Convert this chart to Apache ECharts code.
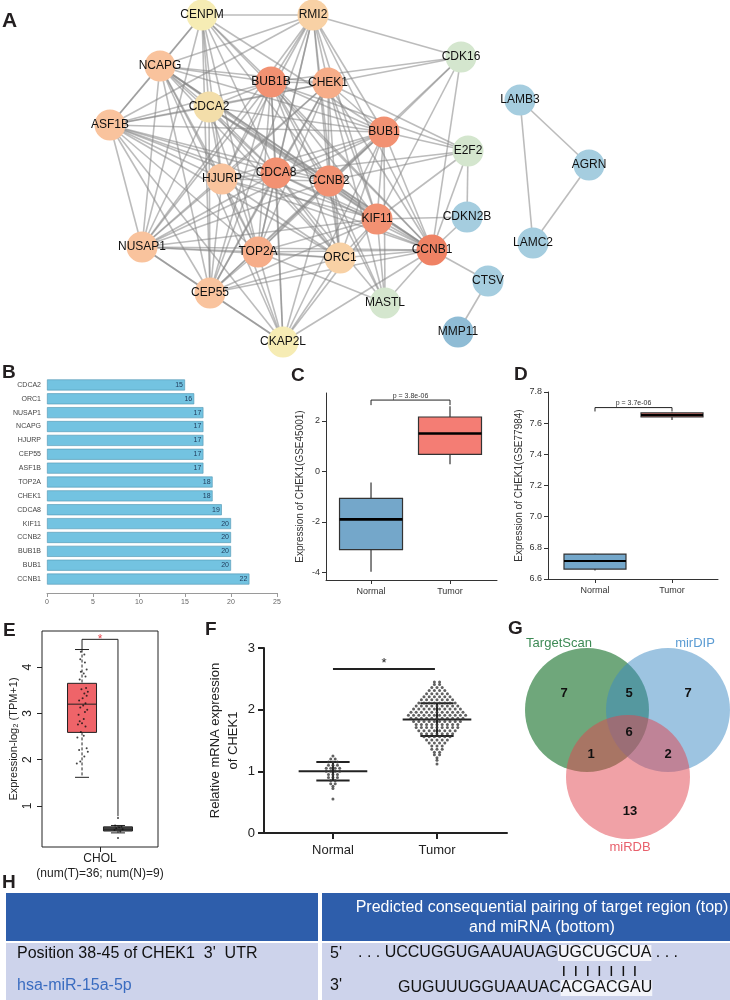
<!DOCTYPE html>
<html>
<head>
<meta charset="utf-8">
<script src="https://cdn.jsdelivr.net/npm/echarts@6/dist/echarts.min.js"></script>
<style>
  html, body { margin: 0; padding: 0; background: #fff; }
  #chart { width: 730px; height: 1000px; }
</style>
</head>
<body>
<div id="chart"></div>
<script>
// ---------- A: PPI network ----------
const geneNames = ['CENPM', 'RMI2', 'NCAPG', 'BUB1B', 'CHEK1', 'CDCA2', 'ASF1B', 'BUB1', 'CDK16', 'HJURP', 'CDCA8', 'CCNB2', 'E2F2', 'LAMB3', 'AGRN', 'KIF11', 'CDKN2B', 'NUSAP1', 'TOP2A', 'ORC1', 'CCNB1', 'LAMC2', 'CEP55', 'MASTL', 'CTSV', 'CKAP2L', 'MMP11'];
// layout of the network (as exported from the drawing tool)
const geneLayoutX = [202, 313, 160, 271, 328, 209, 110, 384, 461, 222, 276, 329, 468, 520, 589, 377, 467, 142, 258, 340, 432, 533, 210, 385, 488, 283, 458];
const geneLayoutY = [15, 15, 66, 82, 83, 107, 125, 132, 57, 179, 173, 181, 151, 100, 165, 219, 217, 247, 252, 258, 250, 243, 293, 303, 281, 342, 332];
const geneLinks = [
  'CCNB1: BUB1 BUB1B CCNB2 KIF11 CDCA8 CHEK1 TOP2A NUSAP1 NCAPG HJURP CEP55 ASF1B ORC1 CDCA2 CENPM RMI2 CKAP2L MASTL CDK16 E2F2 CDKN2B CTSV',
  'BUB1: BUB1B CCNB2 KIF11 CDCA8 CHEK1 TOP2A NUSAP1 NCAPG HJURP CEP55 ASF1B ORC1 CDCA2 CENPM RMI2 CKAP2L MASTL CDK16 E2F2',
  'BUB1B: CCNB2 KIF11 CDCA8 CHEK1 TOP2A NUSAP1 NCAPG HJURP CEP55 ASF1B ORC1 CDCA2 CENPM RMI2 CKAP2L MASTL CDK16 E2F2',
  'CCNB2: KIF11 CDCA8 CHEK1 TOP2A NUSAP1 NCAPG HJURP CEP55 ASF1B ORC1 CDCA2 CENPM RMI2 CKAP2L MASTL CDK16 E2F2',
  'KIF11: CDCA8 CHEK1 TOP2A NUSAP1 NCAPG HJURP CEP55 ASF1B ORC1 CDCA2 RMI2 CKAP2L MASTL CDK16 E2F2 CDKN2B',
  'CDCA8: CHEK1 TOP2A NUSAP1 NCAPG HJURP CEP55 ASF1B ORC1 CDCA2 CENPM RMI2 CKAP2L MASTL E2F2',
  'CHEK1: TOP2A NUSAP1 NCAPG HJURP CEP55 ASF1B ORC1 CDCA2 RMI2 CDK16 E2F2 MASTL',
  'TOP2A: NUSAP1 NCAPG HJURP CEP55 ASF1B ORC1 CDCA2 CENPM RMI2 CKAP2L MASTL',
  'NUSAP1: NCAPG HJURP CEP55 ASF1B ORC1 CDCA2 CENPM RMI2 CKAP2L',
  'NCAPG: HJURP CEP55 ASF1B ORC1 CDCA2 CENPM RMI2 CKAP2L',
  'HJURP: CEP55 ASF1B ORC1 CDCA2 CENPM RMI2 CKAP2L',
  'CEP55: ASF1B ORC1 CDCA2 CENPM RMI2 CKAP2L',
  'ASF1B: ORC1 CDCA2 CENPM RMI2 CKAP2L',
  'ORC1: CDCA2 RMI2 CKAP2L',
  'CDCA2: CENPM',
  'CENPM: RMI2',
  'RMI2: CDK16',
  'E2F2: CDKN2B',
  'CTSV: MMP11',
  'LAMB3: AGRN LAMC2',
  'AGRN: LAMC2'
];

// ---------- B: degree ranking ----------
const hubGenes = ['CDCA2', 'ORC1', 'NUSAP1', 'NCAPG', 'HJURP', 'CEP55', 'ASF1B', 'TOP2A', 'CHEK1', 'CDCA8', 'KIF11', 'CCNB2', 'BUB1B', 'BUB1', 'CCNB1'];
const hubDegree = [15, 16, 17, 17, 17, 17, 17, 18, 18, 19, 20, 20, 20, 20, 22];

// ---------- C / D: GEO box plots ----------
const groupsCD = ['Normal', 'Tumor'];
// [min, Q1, median, Q3, max]
const boxC = [[-3.97, -3.1, -1.9, -1.07, -0.44], [0.28, 0.67, 1.5, 2.15, 2.58]];
const boxD = [[6.655, 6.664, 6.715, 6.76, 6.762], [7.62, 7.64, 7.652, 7.666, 7.668]];
const ticksC = [-4, -2, 0, 2];
const pLabelC = 'p = 3.8e-06';
const pLabelD = 'p = 3.7e-06';

// ---------- E: GEPIA ----------
const eCategory = ['CHOL'];
const eCountLabel = '(num(T)=36; num(N)=9)';
const eTumorBox = [1.62, 2.59, 3.2, 3.65, 4.38];
const eNormalBox = [0.42, 0.46, 0.5, 0.55, 0.58];
const eTumorPts = [4.33, 4.27, 4.17, 4.10, 3.95, 3.90, 3.86, 3.80, 3.73, 3.55, 3.52, 3.47, 3.43, 3.38, 3.33, 3.28, 3.22, 3.17, 3.13, 3.08, 3.03, 2.97, 2.88, 2.83, 2.79, 2.76, 2.72, 2.60, 2.52, 2.48, 2.25, 2.21, 2.17, 2.07, 1.96, 1.92];
const eTumorJitter = [-0.02, 0.04, -0.03, 0.05, 0.08, -0.02, 0.03, 0.06, -0.04, 0.07, -0.01, 0.10, 0.04, 0.08, 0.01, -0.05, 0.06, 0.02, -0.03, 0.09, 0.05, -0.06, 0.03, -0.04, 0.0, -0.07, 0.06, -0.02, 0.03, -0.08, 0.08, -0.05, 0.10, 0.04, -0.03, -0.09];
const eNormalPts = [0.74, 0.58, 0.56, 0.54, 0.52, 0.50, 0.48, 0.45, 0.31];
const eNormalJitter = [0.0, -0.05, 0.06, 0.02, -0.03, 0.08, -0.06, 0.04, 0.0];
const eTicks = [1, 2, 3, 4];

// ---------- F: qRT-PCR ----------
const fGroups = ['Normal', 'Tumor'];
const fMean = [1.0, 1.84];
const fSD = [0.15, 0.265];
const fNormalLevels = [0.55, 0.72, 0.76, 0.8, 0.85, 0.9, 0.95, 1.0, 1.05, 1.1, 1.15, 1.2, 1.25];
const fNormalCounts = [1, 1, 1, 2, 2, 3, 3, 4, 4, 3, 3, 2, 1];
const fTumorLevels = [1.12, 1.18, 1.22, 1.27, 1.31, 1.36, 1.41, 1.46, 1.51, 1.56, 1.61, 1.66, 1.71, 1.76, 1.81, 1.86, 1.91, 1.96, 2.01, 2.06, 2.11, 2.16, 2.21, 2.26, 2.31, 2.36, 2.41, 2.45];
const fTumorCounts = [1, 1, 1, 2, 2, 3, 3, 4, 5, 6, 7, 8, 9, 9, 10, 11, 12, 11, 10, 9, 8, 7, 6, 5, 4, 3, 2, 2];

// ---------- G: Venn ----------
const vennSets = ['TargetScan', 'mirDIP', 'miRDB'];
const vennCounts = [7, 7, 13, 5, 1, 2, 6]; // TS only, mirDIP only, miRDB only, TS&mirDIP, TS&miRDB, mirDIP&miRDB, all

const fontFam = '"Liberation Sans", Arial, sans-serif';

// network nodes / links
const links = [];
geneLinks.forEach(function (row) {
  const parts = row.split(':');
  parts[1].trim().split(/\s+/).forEach(function (t) {
    links.push({ source: parts[0].trim(), target: t });
  });
});
const degree = {};
links.forEach(function (l) {
  degree[l.source] = (degree[l.source] || 0) + 1;
  degree[l.target] = (degree[l.target] || 0) + 1;
});
function degreeColor(d) {
  if (d >= 22) return '#EF8264';
  if (d >= 19) return '#F29172';
  if (d >= 18) return '#F6AD89';
  if (d >= 17) return '#F9C39D';
  if (d >= 16) return '#F8D1A5';
  if (d >= 14) return '#F3DEAA';
  if (d >= 10) return '#F6ECB4';
  if (d >= 5) return '#D4E6CE';
  if (d >= 2) return '#A5CDDF';
  return '#8FBCD5';
}
const graphNodes = geneNames.map(function (g, i) {
  return { name: g, value: [geneLayoutX[i], geneLayoutY[i]], itemStyle: { color: degreeColor(degree[g]) } };
});

// box plot renderer
function boxRenderer(cfg) {
  return function (params, api) {
    const x = api.value(0);
    const p = [1, 2, 3, 4, 5].map(function (d) { return api.coord([x, api.value(d)]); });
    const cx = p[0][0], w = cfg.width, hw = w / 2;
    const dash = cfg.dash ? cfg.dash[params.dataIndex] : null;
    const st = { stroke: cfg.stroke, lineWidth: cfg.lineWidth, lineDash: dash };
    const kids = [
      { type: 'line', shape: { x1: cx, y1: p[4][1], x2: cx, y2: p[3][1] }, style: st },
      { type: 'line', shape: { x1: cx, y1: p[1][1], x2: cx, y2: p[0][1] }, style: st },
      { type: 'rect', shape: { x: cx - hw, y: p[3][1], width: w, height: Math.max(p[1][1] - p[3][1], 1) },
        style: { fill: cfg.fill[params.dataIndex], stroke: cfg.stroke, lineWidth: cfg.lineWidth } },
      { type: 'line', shape: { x1: cx - hw, y1: p[2][1], x2: cx + hw, y2: p[2][1] }, style: { stroke: cfg.median, lineWidth: cfg.medianWidth } }
    ];
    if (cfg.cap) {
      const c = cfg.cap[params.dataIndex] / 2;
      kids.push({ type: 'line', shape: { x1: cx - c, y1: p[0][1], x2: cx + c, y2: p[0][1] }, style: { stroke: cfg.stroke, lineWidth: cfg.lineWidth } });
      kids.push({ type: 'line', shape: { x1: cx - c, y1: p[4][1], x2: cx + c, y2: p[4][1] }, style: { stroke: cfg.stroke, lineWidth: cfg.lineWidth } });
    }
    return { type: 'group', children: kids };
  };
}

// bracket renderer: [x1, x2, yTop, yLeftEnd, yRightEnd]
function bracketRenderer(cfg) {
  return function (params, api) {
    const a = api.coord([api.value(0), api.value(2)]);
    const b = api.coord([api.value(1), api.value(2)]);
    const al = api.coord([api.value(0), api.value(3)]);
    const br = api.coord([api.value(1), api.value(4)]);
    return {
      type: 'group',
      children: [
        { type: 'polyline', shape: { points: [[a[0], al[1]], a, b, [b[0], br[1]]] },
          style: { stroke: cfg.stroke, lineWidth: cfg.lineWidth, fill: null } },
        { type: 'text', x: (a[0] + b[0]) / 2, y: a[1] + cfg.dy,
          style: { text: cfg.text, align: 'center', verticalAlign: 'bottom', fontSize: cfg.fontSize, fill: cfg.color, fontFamily: fontFam } }
      ]
    };
  };
}

function swarm(levels, counts, center, step) {
  const pts = [];
  levels.forEach(function (v, i) {
    const n = counts[i];
    for (let k = 0; k < n; k++) pts.push([center + (k - (n - 1) / 2) * step, v]);
  });
  return pts;
}

const eBoxX = [-0.31, 0.31];
const ePts = eTumorPts.map(function (v, i) { return [eBoxX[0] + eTumorJitter[i], v]; })
  .concat(eNormalPts.map(function (v, i) { return [eBoxX[1] + eNormalJitter[i], v]; }));
const fPts = swarm(fNormalLevels, fNormalCounts, 0, 0.043).concat(swarm(fTumorLevels, fTumorCounts, 1, 0.05));

// venn geometry
const vennCircles = [[587, 710, 62], [668, 710, 62], [628, 777, 62]];
const vennFill = ['rgba(63,138,79,0.75)', 'rgba(59,137,195,0.5)', 'rgba(225,67,77,0.5)'];
const vennCountPos = [[564, 693], [688, 693], [630, 811], [629, 693], [591, 754], [668, 754], [629, 732]];
const vennLabelPos = [[559, 643], [695, 643], [630, 847]];
const vennLabelColor = ['#3D8A55', '#5A9BD3', '#E8606C'];

// table pairing marks positions from text metrics
const measureCtx = document.createElement('canvas').getContext('2d');
measureCtx.font = '16px "Liberation Sans"';
const seqTopPrefix = '. . . UCCUGGUGAAUAUAG';
const seqTopSeed = 'UGCUGCUA';
const seqBotPrefix = 'GUGUUUGGUAAUAC';
const seqBotSeed = 'ACGACGAU';
const seqTopX = 358, seqBotX = 398;
const seedStart = seqTopX + measureCtx.measureText(seqTopPrefix).width;
const pairMarks = [];
for (let k = 0; k < 7; k++) {
  const xc = seedStart + measureCtx.measureText(seqTopSeed.slice(0, k)).width + measureCtx.measureText(seqTopSeed[k]).width / 2;
  pairMarks.push({ type: 'line', shape: { x1: xc, y1: 966, x2: xc, y2: 976 }, style: { stroke: '#111', lineWidth: 1.5 } });
}

function letter(t, x, y, size) {
  return { type: 'text', x: x, y: y, style: { text: t, fontSize: size || 19, fontWeight: 'bold', fill: '#231F20', fontFamily: fontFam, verticalAlign: 'middle' } };
}

const noZero = { onZero: false };
const chart = echarts.init(document.getElementById('chart'));

const option = {
  animation: false,
  textStyle: { fontFamily: fontFam },
  grid: [
    { left: 0, top: 0, width: 730, height: 365, outerBoundsMode: 'none' },
    { left: 47, top: 378, width: 230, height: 208, outerBoundsMode: 'none' },
    { left: 326, top: 393, width: 171, height: 187, outerBoundsMode: 'none' },
    { left: 548, top: 392, width: 170, height: 187, outerBoundsMode: 'none' },
    { left: 42, top: 631, width: 116, height: 216, show: true, borderColor: '#222', borderWidth: 1, backgroundColor: 'transparent', outerBoundsMode: 'none' },
    { left: 264, top: 648, width: 243, height: 185, outerBoundsMode: 'none' },
    { left: 500, top: 600, width: 230, height: 270, outerBoundsMode: 'none' }
  ],
  xAxis: [
    { gridIndex: 0, type: 'value', min: 0, max: 730, show: false },
    { gridIndex: 1, type: 'value', min: 0, max: 25, interval: 5, offset: 7,
      axisLine: { show: true, onZero: false, lineStyle: { color: '#9a9a9a', width: 1 } },
      axisTick: { show: true, length: 4, lineStyle: { color: '#9a9a9a' } },
      axisLabel: { fontSize: 7, color: '#666', margin: 6 }, splitLine: { show: false } },
    { gridIndex: 2, type: 'value', min: -0.57, max: 1.595,
      axisLine: { show: true, onZero: false, lineStyle: { color: '#333', width: 1 } },
      axisTick: { show: true, customValues: [0, 1], length: 4, lineStyle: { color: '#333' } },
      axisLabel: { customValues: [0, 1], formatter: function (v) { return groupsCD[Math.round(v)]; }, fontSize: 9, color: '#333', margin: 7 },
      splitLine: { show: false } },
    { gridIndex: 3, type: 'value', min: -0.61, max: 1.597,
      axisLine: { show: true, onZero: false, lineStyle: { color: '#333', width: 1 } },
      axisTick: { show: true, customValues: [0, 1], length: 4, lineStyle: { color: '#333' } },
      axisLabel: { customValues: [0, 1], formatter: function (v) { return groupsCD[Math.round(v)]; }, fontSize: 9, color: '#333', margin: 7 },
      splitLine: { show: false } },
    { gridIndex: 4, type: 'category', data: eCategory, boundaryGap: true,
      axisLine: { show: false, onZero: false },
      axisTick: { show: true, alignWithLabel: true, length: 5, lineStyle: { color: '#222' } },
      axisLabel: { formatter: function (v) { return v + '\n' + eCountLabel; }, fontSize: 12, lineHeight: 15, color: '#222', margin: 4 },
      splitLine: { show: false } },
    { gridIndex: 4, type: 'value', min: -1, max: 1, show: false, axisLine: noZero },
    { gridIndex: 5, type: 'value', min: -0.663, max: 1.673,
      axisLine: { show: true, onZero: false, lineStyle: { color: '#222', width: 2 } },
      axisTick: { show: true, customValues: [0, 1], length: 6, lineStyle: { color: '#222', width: 2 } },
      axisLabel: { customValues: [0, 1], formatter: function (v) { return fGroups[Math.round(v)]; }, fontSize: 13, color: '#222', margin: 11 },
      splitLine: { show: false } },
    { gridIndex: 6, type: 'value', min: 500, max: 730, show: false, axisLine: noZero }
  ],
  yAxis: [
    { gridIndex: 0, type: 'value', min: 0, max: 365, inverse: true, show: false, axisLine: noZero },
    { gridIndex: 1, type: 'category', data: hubGenes, inverse: true,
      axisLine: { show: false, onZero: false }, axisTick: { show: false },
      axisLabel: { fontSize: 7, color: '#444', margin: 6 } },
    { gridIndex: 2, type: 'value', min: -4.3, max: 3.1,
      axisLine: { show: true, onZero: false, lineStyle: { color: '#333', width: 1 } },
      axisTick: { show: true, customValues: ticksC, length: 4, lineStyle: { color: '#333' } },
      axisLabel: { customValues: ticksC, fontSize: 9, color: '#333', margin: 6 },
      splitLine: { show: false },
      name: 'Expression of CHEK1(GSE45001)', nameLocation: 'middle', nameGap: 21,
      nameTextStyle: { fontSize: 10, color: '#333' } },
    { gridIndex: 3, type: 'value', min: 6.6, max: 7.8, interval: 0.2,
      axisLine: { show: true, onZero: false, lineStyle: { color: '#333', width: 1 } },
      axisTick: { show: true, length: 4, lineStyle: { color: '#333' } },
      axisLabel: { formatter: function (v) { return v.toFixed(1); }, fontSize: 9, color: '#333', margin: 6 },
      splitLine: { show: false },
      name: 'Expression of CHEK1(GSE77984)', nameLocation: 'middle', nameGap: 24,
      nameTextStyle: { fontSize: 10, color: '#333' } },
    { gridIndex: 4, type: 'value', min: 0.115, max: 4.78,
      axisLine: { show: false, onZero: false },
      axisTick: { show: true, customValues: eTicks, length: 5, lineStyle: { color: '#222' } },
      axisLabel: { customValues: eTicks, rotate: 90, fontSize: 12, color: '#222', margin: 8 },
      splitLine: { show: false },
      name: 'Expression-log\u2082 (TPM+1)', nameLocation: 'middle', nameGap: 23,
      nameTextStyle: { fontSize: 11, color: '#222' } },
    { gridIndex: 5, type: 'value', min: 0, max: 3, interval: 1,
      axisLine: { show: true, onZero: false, lineStyle: { color: '#222', width: 2 } },
      axisTick: { show: true, length: 6, lineStyle: { color: '#222', width: 2 } },
      axisLabel: { fontSize: 13, color: '#222', margin: 9 },
      splitLine: { show: false },
      name: 'Relative mRNA expression\nof CHEK1', nameLocation: 'middle', nameGap: 22,
      nameTextStyle: { fontSize: 13, lineHeight: 18, color: '#222' } },
    { gridIndex: 6, type: 'value', min: 600, max: 870, inverse: true, show: false, axisLine: noZero }
  ],
  series: [
    {
      type: 'graph', coordinateSystem: 'cartesian2d', xAxisIndex: 0, yAxisIndex: 0,
      silent: true, symbolSize: 31, data: graphNodes, links: links,
      lineStyle: { color: '#858585', width: 1.6, opacity: 0.55 },
      label: { show: true, position: 'inside', fontSize: 12, color: '#111' },
      itemStyle: { borderWidth: 0 }, emphasis: { disabled: true }
    },
    {
      type: 'bar', xAxisIndex: 1, yAxisIndex: 1, data: hubDegree, barWidth: 11, silent: true,
      itemStyle: { color: '#73C3E1', borderColor: '#4F93B0', borderWidth: 0.6 },
      label: { show: true, position: 'insideRight', distance: 2, fontSize: 7, color: '#1F3A5A' }
    },
    {
      type: 'custom', xAxisIndex: 2, yAxisIndex: 2, silent: true,
      data: groupsCD.map(function (g, i) { return [i].concat(boxC[i]); }),
      renderItem: boxRenderer({ width: 63, stroke: '#333', lineWidth: 1.2, median: '#000', medianWidth: 2.6, fill: ['#74A7CA', '#F47D74'] })
    },
    {
      type: 'custom', xAxisIndex: 2, yAxisIndex: 2, silent: true,
      data: [[0, 1, 2.82, 2.62, 2.62]],
      renderItem: bracketRenderer({ stroke: '#222', lineWidth: 1, text: pLabelC, fontSize: 7, color: '#333', dy: -1 })
    },
    {
      type: 'custom', xAxisIndex: 3, yAxisIndex: 3, silent: true,
      data: groupsCD.map(function (g, i) { return [i].concat(boxD[i]); }),
      renderItem: boxRenderer({ width: 62, stroke: '#333', lineWidth: 1.2, median: '#000', medianWidth: 2, fill: ['#74A7CA', '#F47D74'] })
    },
    {
      type: 'custom', xAxisIndex: 3, yAxisIndex: 3, silent: true,
      data: [[0, 1, 7.70, 7.675, 7.675]],
      renderItem: bracketRenderer({ stroke: '#222', lineWidth: 1, text: pLabelD, fontSize: 7, color: '#333', dy: -1 })
    },
    {
      type: 'custom', xAxisIndex: 5, yAxisIndex: 4, silent: true,
      data: [[eBoxX[0]].concat(eTumorBox), [eBoxX[1]].concat(eNormalBox)],
      renderItem: boxRenderer({ width: 29, stroke: '#222', lineWidth: 1, median: '#222', medianWidth: 1, fill: ['#EF6469', '#4A4A4A'], dash: [[3, 2], null], cap: [14, 14] })
    },
    {
      type: 'scatter', xAxisIndex: 5, yAxisIndex: 4, silent: true, data: ePts,
      symbolSize: 2, itemStyle: { color: '#111' }
    },
    {
      type: 'custom', xAxisIndex: 5, yAxisIndex: 4, silent: true,
      data: [[eBoxX[0], eBoxX[1], 4.6, 4.38, 0.78]],
      renderItem: bracketRenderer({ stroke: '#222', lineWidth: 1, text: '*', fontSize: 12, color: '#E8474E', dy: 6 })
    },
    {
      type: 'scatter', xAxisIndex: 6, yAxisIndex: 5, silent: true, data: fPts,
      symbolSize: 3, itemStyle: { color: '#3A3A3A' }
    },
    {
      type: 'custom', xAxisIndex: 6, yAxisIndex: 5, silent: true,
      data: fGroups.map(function (g, i) { return [i, fMean[i], fSD[i]]; }),
      renderItem: function (params, api) {
        const x = api.value(0), m = api.value(1), sd = api.value(2);
        const c = api.coord([x, m]), hi = api.coord([x, m + sd]), lo = api.coord([x, m - sd]);
        const mw = api.size([0.66, 0])[0] / 2, cw = api.size([0.32, 0])[0] / 2;
        const st = { stroke: '#222', lineWidth: 2 };
        return { type: 'group', children: [
          { type: 'line', shape: { x1: c[0], y1: hi[1], x2: c[0], y2: lo[1] }, style: st },
          { type: 'line', shape: { x1: c[0] - mw, y1: c[1], x2: c[0] + mw, y2: c[1] }, style: st },
          { type: 'line', shape: { x1: c[0] - cw, y1: hi[1], x2: c[0] + cw, y2: hi[1] }, style: st },
          { type: 'line', shape: { x1: c[0] - cw, y1: lo[1], x2: c[0] + cw, y2: lo[1] }, style: st }
        ] };
      }
    },
    {
      type: 'custom', xAxisIndex: 6, yAxisIndex: 5, silent: true,
      data: [[0, 0.98, 2.66, 2.66, 2.66]],
      renderItem: bracketRenderer({ stroke: '#222', lineWidth: 2, text: '*', fontSize: 13, color: '#222', dy: 1 })
    },
    {
      type: 'custom', xAxisIndex: 7, yAxisIndex: 6, silent: true,
      data: vennCircles,
      renderItem: function (params, api) {
        const c = api.coord([api.value(0), api.value(1)]);
        const r = api.size([api.value(2), 0])[0];
        return { type: 'circle', shape: { cx: c[0], cy: c[1], r: r }, style: { fill: vennFill[params.dataIndex] } };
      }
    },
    {
      type: 'custom', xAxisIndex: 7, yAxisIndex: 6, silent: true,
      data: vennCounts.map(function (n, i) { return [vennCountPos[i][0], vennCountPos[i][1], n]; }),
      renderItem: function (params, api) {
        const c = api.coord([api.value(0), api.value(1)]);
        return { type: 'text', x: c[0], y: c[1], style: { text: String(api.value(2)), align: 'center', verticalAlign: 'middle', fontSize: 13, fontWeight: 'bold', fill: '#111', fontFamily: fontFam } };
      }
    },
    {
      type: 'custom', xAxisIndex: 7, yAxisIndex: 6, silent: true,
      data: vennSets.map(function (s, i) { return [vennLabelPos[i][0], vennLabelPos[i][1]]; }),
      renderItem: function (params, api) {
        const c = api.coord([api.value(0), api.value(1)]);
        return { type: 'text', x: c[0], y: c[1], style: { text: vennSets[params.dataIndex], align: 'center', verticalAlign: 'middle', fontSize: 13, fill: vennLabelColor[params.dataIndex], fontFamily: fontFam } };
      }
    }
  ],
  graphic: [
    letter('A', 2, 21, 21), letter('B', 2, 373), letter('C', 291, 376), letter('D', 514, 375),
    letter('E', 3, 631), letter('F', 205, 630), letter('G', 508, 629), letter('H', 2, 883),
    // table H
    { type: 'rect', shape: { x: 6, y: 893, width: 312, height: 48 }, style: { fill: '#2E5EAB' } },
    { type: 'rect', shape: { x: 322, y: 893, width: 408, height: 48 }, style: { fill: '#2E5EAB' } },
    { type: 'rect', shape: { x: 6, y: 943, width: 312, height: 57 }, style: { fill: '#CDD3EB' } },
    { type: 'rect', shape: { x: 322, y: 943, width: 408, height: 57 }, style: { fill: '#CDD3EB' } },
    { type: 'text', x: 542, y: 918, style: { text: 'Predicted consequential pairing of target region (top)\nand miRNA (bottom)', align: 'center', verticalAlign: 'middle', fontSize: 16, lineHeight: 20, fill: '#fff', fontFamily: fontFam } },
    { type: 'text', x: 17, y: 954, style: { text: "Position 38-45 of CHEK1  3'  UTR", verticalAlign: 'middle', fontSize: 16, fill: '#111', fontFamily: fontFam } },
    { type: 'text', x: 17, y: 986, style: { text: 'hsa-miR-15a-5p', verticalAlign: 'middle', fontSize: 16, fill: '#3A6CC0', fontFamily: fontFam } },
    { type: 'text', x: 330, y: 954, style: { text: "5'", verticalAlign: 'middle', fontSize: 16, fill: '#111', fontFamily: fontFam } },
    { type: 'text', x: 330, y: 986, style: { text: "3'", verticalAlign: 'middle', fontSize: 16, fill: '#111', fontFamily: fontFam } },
    { type: 'text', x: seqTopX, y: 953, style: {
      text: '{p|' + seqTopPrefix + '}{h|' + seqTopSeed + '}{p| . . .}', verticalAlign: 'middle', fontFamily: fontFam,
      rich: { p: { fontSize: 16, lineHeight: 20, fill: '#111', fontFamily: fontFam }, h: { fontSize: 16, lineHeight: 20, fill: '#111', backgroundColor: '#F3F4FA', fontFamily: fontFam } } } },
    { type: 'text', x: seqBotX, y: 988, style: {
      text: '{p|' + seqBotPrefix + '}{h|' + seqBotSeed + '}', verticalAlign: 'middle', fontFamily: fontFam,
      rich: { p: { fontSize: 16, lineHeight: 22, fill: '#111', fontFamily: fontFam }, h: { fontSize: 16, lineHeight: 22, fill: '#111', backgroundColor: '#F3F4FA', fontFamily: fontFam } } } }
  ].concat(pairMarks)
};

chart.setOption(option);
</script>
</body>
</html>
